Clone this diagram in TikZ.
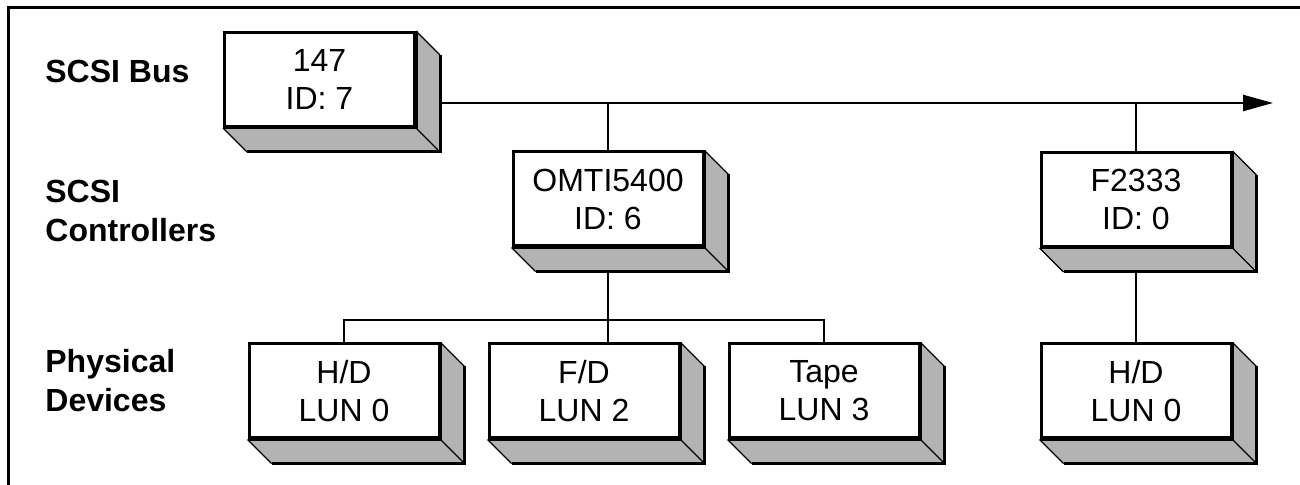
\documentclass[tikz,border=0pt]{standalone}
\usepackage{fontspec}
\setmainfont{Liberation Sans}
\usetikzlibrary{calc}
\usetikzlibrary{arrows.meta}
\definecolor{shadegray}{RGB}{179,179,179}
\tikzset{
  dev/.style= {draw, line width=1.5pt, fill=white, minimum width=95pt,
    minimum height=47pt, inner sep=0, align=center,
    font=\fontsize{16}{19}\selectfont},
  lbl/.style= {anchor=west, inner sep=0, align=left,
    font=\fontsize{16}{19.5}\selectfont\bfseries},
  wire/.style= {line width=1.1pt},
}
% bevel drawn on the right and bottom of a box
\newcommand\devshadow[1]{%
  \fill[shadegray] (#1.north east) -- ++(24,24) -- ($(#1.south east)+(24,24)$)
    -- ($(#1.south west)+(24,24)$) -- (#1.south west) -- (#1.south east) -- cycle;
  \draw[line width=0.6pt] (#1.north east) -- ++(24,24)
    (#1.south east) -- ++(24,24) (#1.south west) -- ++(24,24);
  \draw[line width=1.5pt] ($(#1.north east)+(24,24)$) -- ($(#1.south east)+(24,24)$)
    -- ($(#1.south west)+(24,24)$);
  \draw[line width=1.5pt] (#1.north east) -- (#1.south east) -- (#1.south west);
}
\begin{document}
\begin{tikzpicture}[x=0.5pt, y=-0.5pt]
  \useasboundingbox (0,0) rectangle (1300,485);
  \draw [line width=1.5pt] (8,500) -- (8,8) -- (1320,8);

  \node [lbl] (lbus) at (45,71) {SCSI Bus};
  \node [lbl] (lctl) at (45,211) {SCSI\\Controllers};
  \node [lbl] (ldev) at (45,381) {Physical\\Devices};

  \node [dev] (host) at (319.5,79.5) {147\\ID: 7};
  \node [dev] (omti) at (608,199) {OMTI5400\\ID: 6};
  \node [dev] (fcon) at (1136,199.5) {F2333\\ID: 0};
  \node [dev] (hda) at (344,391) {H/D\\LUN 0};
  \node [dev] (fd) at (584,391) {F/D\\LUN 2};
  \node [dev] (tape) at (824,391) {Tape\\LUN 3};
  \node [dev] (hdb) at (1136,391) {H/D\\LUN 0};

  \coordinate (busL) at (440,103);
  \coordinate (busR) at (1273,103);
  \coordinate (fork) at (608,320);

  \draw [wire, -{Triangle[length=15pt, width=8pt]}] (busL) -- (busR);
  \draw [wire] (omti.north) -- (omti.north |- busL);
  \draw [wire] (fcon.north) -- (fcon.north |- busL);
  \draw [wire] (omti.south) -- (omti.south |- fd.north);
  \draw [wire] (hda.north) |- (fork) -| (tape.north);
  \draw [wire] (fcon.south) -- (hdb.north);

  \foreach \b in {host, omti, fcon, hda, fd, tape, hdb}
    {\devshadow{\b}}
\end{tikzpicture}
\end{document}
